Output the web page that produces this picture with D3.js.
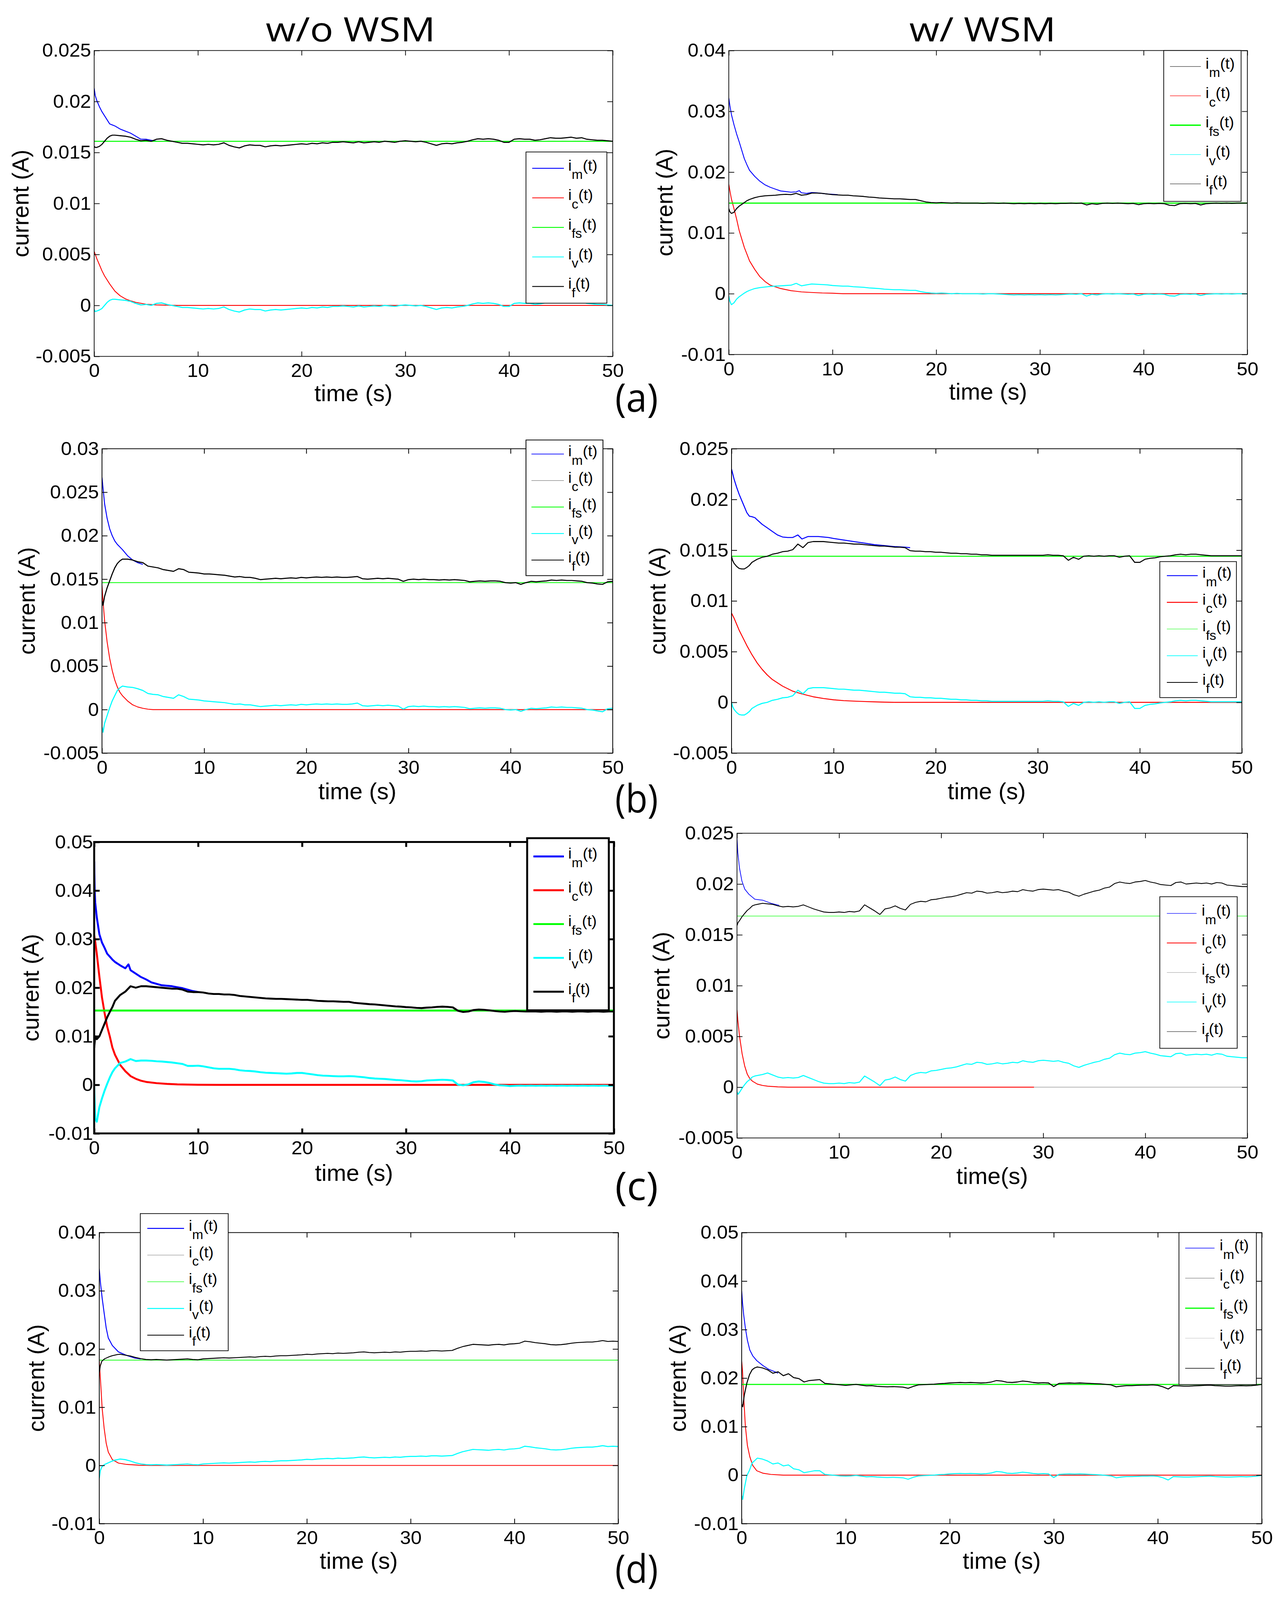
<!DOCTYPE html>
<html>
<head>
<meta charset="utf-8">
<title>current w/o WSM and w/ WSM</title>
<script src="https://d3js.org/d3.v7.min.js"></script>
<style>
  html, body { margin: 0; padding: 0; width: 100%; height: 100%; overflow: hidden; background: #fff; }
  #fig { width: 100%; height: 100%; }
  svg { display: block; font-family: 'Liberation Sans', Arial, sans-serif; }
</style>
</head>
<body>
<div id="fig"></div>
<script>
// all currents are in mA; time in s

// time grid shared by the noisy traces i_v and i_f
const T = [0,0.1,0.25,0.5,0.75,1,1.25,1.5,1.75,2,
  2.5,3,3.5,4,4.5,5,5.5,6,6.5,7,
  7.5,8,8.5,9,9.5,10,10.5,11,11.5,12,
  12.5,13,13.5,14,14.5,15,15.5,16,16.5,17,
  17.5,18,18.5,19,19.5,20,20.5,21,21.5,22,
  22.5,23,23.5,24,24.5,25,25.5,26,26.5,27,
  27.5,28,28.5,29,29.5,30,30.5,31,31.5,32,
  32.5,33,33.5,34,34.5,35,35.5,36,36.5,37,
  37.5,38,38.5,39,39.5,40,40.5,41,41.5,42,
  42.5,43,43.5,44,44.5,45,45.5,46,46.5,47,
  47.5,48,48.5,49,49.5,50];

const X_TICKS = [0, 10, 20, 30, 40, 50];
const Y_TICKS_25 = [-5, 0, 5, 10, 15, 20, 25];
const Y_LABELS_25 = ['-0.005', '0', '0.005', '0.01', '0.015', '0.02', '0.025'];
const Y_TICKS_30 = [-5, 0, 5, 10, 15, 20, 25, 30];
const Y_LABELS_30 = ['-0.005', '0', '0.005', '0.01', '0.015', '0.02', '0.025', '0.03'];
const Y_TICKS_40 = [-10, 0, 10, 20, 30, 40];
const Y_LABELS_40 = ['-0.01', '0', '0.01', '0.02', '0.03', '0.04'];
const Y_TICKS_50 = [-10, 0, 10, 20, 30, 40, 50];
const Y_LABELS_50 = ['-0.01', '0', '0.01', '0.02', '0.03', '0.04', '0.05'];

// i_fs level of each panel
const FS = {aL: 16.1, aR: 14.9, bL: 14.6, bR: 14.4, cL: 15.3, cR: 16.85, dL: 18.1, dR: 18.7};

// ---- (a) w/o WSM
const aL_im = [[0,21.3],[0.1,20.6],[0.25,20.1],[0.5,19.5],[0.75,19.0],[1,18.6],[1.25,18.2],[1.5,17.8],[1.75,17.7],[2,17.6],[2.5,17.3],[3,17.1],[3.5,16.9],[4,16.6],[4.5,16.3],[5,16.3],[5.5,16.2],[6,16.1]];
const aL_ic = [[0,5.3],[0.25,4.6],[0.5,4.0],[0.75,3.4],[1,2.9],[1.5,2.1],[2,1.4],[2.5,0.95],[3,0.65],[3.5,0.45],[4,0.3],[5,0.12],[6,0.05],[8,0],[50,0]];
const aL_if = [15.6,15.5,15.5,15.6,15.8,16.1,16.4,16.6,16.7,16.7,
  16.65,16.6,16.5,16.3,16.15,16.2,16.1,16.3,16.35,16.2,
  16.1,16.0,15.9,15.9,15.85,15.8,15.75,15.8,15.75,15.8,
  15.95,15.7,15.55,15.45,15.65,15.75,15.7,15.7,15.55,15.65,
  15.7,15.65,15.7,15.75,15.8,15.85,15.8,15.9,15.85,15.95,
  15.9,16.0,16.0,16.05,16.0,15.95,16.05,15.95,16.0,16.05,
  16.0,16.1,16.05,16.0,16.1,16.15,16.1,16.05,16.1,16.0,
  15.85,15.7,15.85,15.9,15.85,15.95,16.0,16.1,16.25,16.35,
  16.3,16.35,16.3,16.2,16.0,16.0,16.3,16.35,16.3,16.3,
  16.2,16.25,16.35,16.45,16.4,16.4,16.45,16.5,16.4,16.45,
  16.3,16.25,16.2,16.2,16.15,16.1];
const aL_iv = [-0.4,-0.6,-0.55,-0.45,-0.3,0.0,0.3,0.5,0.6,0.6,
  0.55,0.5,0.4,0.2,0.05,0.1,0.0,0.2,0.25,0.1,
  0.0,-0.1,-0.2,-0.2,-0.25,-0.3,-0.35,-0.3,-0.35,-0.3,
  -0.15,-0.4,-0.55,-0.65,-0.45,-0.35,-0.4,-0.4,-0.55,-0.45,
  -0.4,-0.45,-0.4,-0.35,-0.3,-0.25,-0.3,-0.2,-0.25,-0.15,
  -0.2,-0.1,-0.1,-0.05,-0.1,-0.15,-0.05,-0.15,-0.1,-0.05,
  -0.1,0.0,-0.05,-0.1,0.0,0.05,0.0,-0.05,0.0,-0.1,
  -0.25,-0.4,-0.25,-0.2,-0.25,-0.15,-0.1,0.0,0.15,0.25,
  0.2,0.25,0.2,0.1,-0.1,-0.1,0.2,0.25,0.2,0.2,
  0.1,0.15,0.25,0.35,0.3,0.3,0.35,0.4,0.3,0.35,
  0.2,0.15,0.1,0.1,0.05,0.0];

// ---- (a) w/ WSM
const aR_im = [[0,32.2],[0.1,31.0],[0.25,29.5],[0.5,27.8],[0.75,26.3],[1,25.0],[1.25,23.6],[1.5,22.2],[1.75,21.2],[2,20.3],[2.5,19.3],[3,18.5],[3.5,17.9],[4,17.5],[4.5,17.2],[5,16.9],[5.5,16.8],[6,16.7],[6.5,16.75],[6.8,16.95],[7,16.6],[7.5,16.5],[8,16.65],[8.5,16.6],[9,16.5],[9.5,16.4],[10,16.35],[10.5,16.3]];
const aR_ic = [[0,18.0],[0.1,17.0],[0.25,15.6],[0.5,14.0],[0.75,12.3],[1,10.4],[1.25,9.0],[1.5,7.6],[1.75,6.5],[2,5.4],[2.5,4.0],[3,2.8],[3.5,2.0],[4,1.4],[5,0.85],[6,0.5],[7,0.3],[8,0.2],[9,0.12],[10,0.08],[11,0],[50,0]];
const aR_if = [14.0,13.5,13.2,13.4,14.0,14.4,14.7,15.0,15.3,15.5,
  15.8,16.0,16.1,16.15,16.2,16.3,16.35,16.3,16.5,16.2,
  16.3,16.55,16.55,16.5,16.4,16.3,16.25,16.2,16.2,16.1,
  16.05,16.0,15.9,15.85,15.75,15.7,15.65,15.6,15.6,15.55,
  15.5,15.5,15.3,15.1,15.0,14.95,15.0,14.95,14.9,14.95,
  14.9,14.9,14.9,14.9,14.85,14.9,14.9,14.85,14.9,14.85,
  14.8,14.85,14.8,14.85,14.8,14.85,14.8,14.85,14.8,14.85,
  14.85,14.9,14.85,14.9,14.6,14.8,14.7,14.85,14.9,14.85,
  14.9,14.85,14.8,14.85,14.65,14.8,14.85,14.8,14.85,14.8,
  14.55,14.5,14.8,14.85,14.8,14.85,14.6,14.8,14.85,14.9,
  14.85,14.9,14.85,14.9,14.9,14.9];
const aR_iv = [-0.4,-1.2,-1.8,-1.5,-0.9,-0.5,-0.2,0.1,0.35,0.55,
  0.85,1.0,1.1,1.2,1.25,1.3,1.35,1.4,1.7,1.3,
  1.45,1.6,1.55,1.5,1.45,1.35,1.3,1.25,1.25,1.15,
  1.1,1.05,0.95,0.9,0.85,0.75,0.7,0.65,0.65,0.6,
  0.55,0.55,0.35,0.2,0.1,0.05,0.1,0.05,0.0,0.05,
  0.0,0.0,0.0,0.0,-0.05,0.0,0.0,-0.05,-0.1,-0.15,
  -0.2,-0.15,-0.2,-0.15,-0.2,-0.15,-0.2,-0.15,-0.2,-0.15,
  -0.1,-0.05,-0.1,0.0,-0.4,-0.1,-0.2,-0.05,0.0,-0.05,
  0.0,-0.05,-0.1,-0.05,-0.3,-0.1,-0.05,-0.1,-0.05,-0.1,
  -0.35,-0.4,-0.1,-0.05,-0.1,-0.05,-0.3,-0.1,-0.05,0.0,
  -0.05,0.0,-0.05,0.0,0.0,0.0];

// ---- (b) w/o WSM
const bL_im = [[0,26.7],[0.1,25.5],[0.25,23.7],[0.5,22.0],[0.75,20.8],[1,20.0],[1.25,19.4],[1.5,19.0],[1.75,18.7],[2,18.4],[2.5,17.7],[3,17.2],[3.5,16.9],[4,16.7]];
const bL_ic = [[0,14.3],[0.1,12.5],[0.25,10.3],[0.5,7.8],[0.75,5.9],[1,4.5],[1.25,3.4],[1.5,2.6],[1.75,2.0],[2,1.6],[2.5,1.0],[3,0.55],[3.5,0.3],[4,0.15],[4.5,0.05],[5,0],[50,0]];
const bL_if = [12.5,12.0,13.0,14.0,14.8,15.6,16.3,16.8,17.1,17.3,
  17.3,17.2,17.0,16.9,16.5,16.4,16.3,16.1,16.0,15.9,
  16.2,16.1,15.8,15.75,15.7,15.6,15.6,15.55,15.5,15.45,
  15.35,15.25,15.3,15.2,15.2,15.1,14.95,15.0,15.05,15.1,
  15.05,15.1,15.15,15.1,15.2,15.15,15.2,15.25,15.2,15.25,
  15.2,15.25,15.2,15.2,15.25,15.3,15.05,15.0,15.05,15.1,
  15.05,15.1,15.05,15.0,14.75,14.95,15.0,14.95,15.0,14.95,
  14.95,14.9,14.95,14.9,14.95,14.9,14.85,14.7,14.75,14.8,
  14.75,14.8,14.8,14.75,14.6,14.55,14.6,14.4,14.6,14.75,
  14.7,14.75,14.8,14.9,14.85,14.9,14.85,14.85,14.8,14.75,
  14.6,14.55,14.45,14.4,14.7,14.75];
const bL_iv = [-2.0,-2.6,-1.6,-0.7,0.2,1.0,1.6,2.2,2.5,2.7,
  2.6,2.55,2.4,2.2,1.85,1.75,1.7,1.5,1.4,1.3,
  1.7,1.5,1.2,1.15,1.1,1.0,0.95,0.9,0.85,0.8,
  0.7,0.6,0.65,0.55,0.55,0.45,0.35,0.4,0.45,0.5,
  0.45,0.5,0.55,0.5,0.6,0.55,0.6,0.65,0.6,0.65,
  0.6,0.65,0.6,0.6,0.65,0.75,0.45,0.4,0.45,0.5,
  0.45,0.5,0.45,0.4,0.05,0.35,0.4,0.35,0.4,0.35,
  0.35,0.3,0.35,0.3,0.35,0.3,0.25,0.1,0.15,0.2,
  0.15,0.2,0.2,0.15,0.0,-0.05,0.0,-0.2,0.0,0.15,
  0.1,0.15,0.2,0.3,0.25,0.3,0.25,0.25,0.2,0.15,
  0.0,-0.05,-0.15,-0.25,0.1,0.15];

// ---- (b) w/ WSM
const bR_im = [[0,23.0],[0.25,22.0],[0.5,21.2],[0.75,20.5],[1,19.9],[1.25,19.3],[1.5,18.7],[1.75,18.35],[2,18.3],[2.3,18.2],[2.5,18.0],[3,17.55],[3.5,17.2],[4,16.85],[4.5,16.5],[5,16.3],[5.5,16.25],[6,16.25],[6.5,16.5],[6.9,16.1],[7.5,16.35],[8,16.35],[8.5,16.35],[9,16.3],[9.5,16.25],[10,16.15],[11,16.0],[12,15.85],[13,15.7],[14,15.55],[15,15.45],[16,15.35],[17,15.3],[17.5,15.25]];
const bR_ic = [[0,8.8],[0.25,8.3],[0.5,7.7],[0.75,7.1],[1,6.6],[1.5,5.6],[2,4.7],[2.5,3.9],[3,3.25],[3.5,2.7],[4,2.25],[5,1.6],[6,1.1],[7,0.8],[8,0.55],[9,0.38],[10,0.25],[11,0.17],[12,0.12],[13,0.08],[14,0.05],[15,0.02],[16,0],[50,0]];
const bR_if = [14.4,14.0,13.7,13.4,13.2,13.15,13.15,13.3,13.5,13.8,
  14.1,14.3,14.4,14.6,14.7,14.85,14.9,15.05,15.6,15.25,
  15.75,15.85,15.85,15.85,15.8,15.75,15.7,15.7,15.65,15.6,
  15.6,15.55,15.5,15.45,15.4,15.4,15.35,15.3,15.3,15.25,
  14.95,14.9,14.9,14.85,14.85,14.8,14.8,14.75,14.7,14.7,
  14.65,14.65,14.6,14.6,14.55,14.55,14.5,14.5,14.5,14.5,
  14.5,14.5,14.5,14.5,14.5,14.5,14.5,14.55,14.5,14.5,
  14.45,14.0,14.3,14.1,14.4,14.45,14.4,14.45,14.4,14.45,
  14.45,14.3,14.4,14.45,13.8,13.8,14.1,14.2,14.25,14.35,
  14.4,14.45,14.55,14.6,14.55,14.6,14.6,14.55,14.5,14.45,
  14.45,14.45,14.45,14.45,14.45,14.45];
const bR_iv = [0.0,-0.4,-0.7,-1.0,-1.2,-1.25,-1.25,-1.1,-0.9,-0.6,
  -0.3,-0.1,0.0,0.2,0.3,0.45,0.5,0.65,1.2,0.85,
  1.35,1.45,1.45,1.45,1.4,1.35,1.3,1.3,1.25,1.2,
  1.2,1.15,1.1,1.05,1.0,1.0,0.95,0.9,0.9,0.85,
  0.55,0.5,0.5,0.45,0.45,0.4,0.4,0.35,0.3,0.3,
  0.25,0.25,0.2,0.2,0.15,0.15,0.1,0.1,0.1,0.1,
  0.1,0.1,0.1,0.1,0.1,0.1,0.1,0.15,0.1,0.1,
  0.05,-0.4,-0.1,-0.3,0.0,0.05,0.0,0.05,0.0,0.05,
  0.05,-0.1,0.0,0.05,-0.6,-0.6,-0.3,-0.2,-0.15,-0.05,
  0.0,0.05,0.15,0.2,0.15,0.2,0.2,0.15,0.1,0.05,
  0.05,0.05,0.05,0.05,0.05,0.05];

// ---- (c) w/o WSM
const cL_im = [[0,46],[0.05,40],[0.1,37.5],[0.25,34.5],[0.5,31.0],[0.75,29.3],[1,28.2],[1.25,27.0],[1.5,26.4],[1.75,25.8],[2,25.3],[2.5,24.6],[3,24.0],[3.3,24.8],[3.5,23.6],[4,22.9],[4.5,22.2],[5,21.7],[5.5,21.1],[6,20.8],[6.5,20.5],[7,20.4],[7.5,20.3],[8,20.1],[8.5,19.9],[9,19.6],[9.5,19.3],[10,19.1]];
const cL_ic = [[0,30.8],[0.1,29.5],[0.25,27.0],[0.5,22.3],[0.75,18.0],[1,14.8],[1.25,12.0],[1.5,10.0],[1.75,7.7],[2,6.2],[2.5,4.1],[3,2.8],[3.5,1.8],[4,1.25],[4.5,0.85],[5,0.6],[6,0.35],[7,0.2],[8,0.1],[10,0.02],[12,0],[50,0]];
const cL_if = [7.6,10.0,9.4,10.0,11.3,12.6,13.9,15.0,16.0,17.3,
  18.5,19.2,20.3,20.0,20.3,20.3,20.2,20.1,20.0,19.9,
  19.8,19.8,19.6,19.2,19.1,19.1,19.0,18.8,18.7,18.7,
  18.6,18.6,18.5,18.3,18.2,18.1,18.0,17.9,17.8,17.75,
  17.7,17.7,17.65,17.6,17.55,17.5,17.5,17.4,17.3,17.25,
  17.2,17.2,17.15,17.1,17.1,16.9,16.8,16.7,16.6,16.55,
  16.45,16.35,16.25,16.15,16.1,16.0,15.95,15.85,15.8,15.9,
  15.95,16.05,16.1,16.05,15.95,15.25,15.0,15.1,15.4,15.5,
  15.45,15.35,15.2,15.1,15.05,15.15,15.2,15.15,15.1,15.1,
  15.1,15.05,15.1,15.1,15.05,15.1,15.1,15.05,15.1,15.1,
  15.05,15.1,15.1,15.05,15.1,15.1];
const cL_iv = [-0.4,-7.0,-7.6,-4.6,-2.8,-1.2,0.2,1.5,2.6,3.4,
  4.5,4.8,5.3,4.9,5.0,5.0,4.95,4.85,4.8,4.7,
  4.6,4.45,4.3,3.9,3.9,3.95,3.8,3.6,3.4,3.3,
  3.3,3.3,3.2,3.0,2.9,2.85,2.75,2.6,2.5,2.45,
  2.4,2.35,2.3,2.35,2.45,2.45,2.3,2.15,2.0,1.9,
  1.85,1.8,1.75,1.75,1.8,1.75,1.65,1.55,1.4,1.3,
  1.25,1.2,1.1,1.0,0.95,0.85,0.75,0.7,0.75,0.9,
  0.95,1.0,1.05,1.0,0.9,0.05,-0.1,0.1,0.55,0.7,
  0.6,0.4,0.1,-0.1,-0.15,-0.25,-0.2,-0.15,-0.2,-0.15,
  -0.2,-0.15,-0.2,-0.15,-0.2,-0.15,-0.2,-0.15,-0.2,-0.15,
  -0.2,-0.15,-0.2,-0.15,-0.2,-0.15];

// ---- (c) w/ WSM
const cR_im = [[0,24.6],[0.08,23.1],[0.24,21.6],[0.48,20.3],[0.76,19.5],[1.16,19.0],[1.75,18.5],[2.55,18.4],[3.35,18.1],[4.15,17.9]];
const cR_ic = [[0,7.6],[0.08,6.6],[0.25,5.0],[0.5,3.3],[0.75,2.1],[1,1.3],[1.25,0.85],[1.5,0.6],[2,0.3],[2.5,0.17],[3,0.1],[4,0.03],[5,0],[29.1,0]];
const cR_base = [[29.1,0],[50,0]];
const cR_if = [15.9,16.2,16.4,16.8,17.1,17.4,17.6,17.85,17.95,18.0,
  18.1,18.05,18.0,17.85,17.75,17.8,17.75,17.8,17.95,17.75,
  17.55,17.4,17.25,17.2,17.2,17.25,17.2,17.3,17.25,17.35,
  17.95,17.65,17.35,17.0,17.55,17.65,17.85,17.6,17.45,18.0,
  18.2,18.3,18.25,18.45,18.5,18.6,18.7,18.75,18.85,19.0,
  19.15,19.1,19.3,19.25,19.1,19.15,19.25,19.15,19.2,19.3,
  19.25,19.45,19.35,19.3,19.45,19.5,19.45,19.4,19.45,19.3,
  19.2,18.95,18.8,19.0,19.15,19.3,19.4,19.6,19.7,20.05,
  20.2,20.1,20.05,20.2,20.25,20.35,20.2,20.1,19.95,19.9,
  19.85,20.15,20.2,20.0,20.05,20.1,20.05,20.1,20.0,20.15,
  20.1,19.9,19.85,19.8,19.75,19.75];
const cR_iv = [-0.45,-0.7,-0.5,-0.1,0.25,0.55,0.75,1.0,1.1,1.15,
  1.25,1.4,1.2,1.0,0.9,0.95,0.9,0.95,1.15,0.95,
  0.75,0.55,0.4,0.35,0.35,0.4,0.35,0.45,0.4,0.5,
  1.1,0.8,0.5,0.15,0.7,0.8,1.0,0.75,0.6,1.15,
  1.35,1.45,1.4,1.6,1.65,1.75,1.85,1.9,2.0,2.15,
  2.3,2.25,2.45,2.4,2.25,2.3,2.4,2.3,2.35,2.45,
  2.4,2.6,2.5,2.45,2.6,2.65,2.6,2.55,2.6,2.45,
  2.35,2.1,1.95,2.15,2.3,2.45,2.55,2.75,2.85,3.2,
  3.35,3.25,3.2,3.35,3.4,3.5,3.35,3.25,3.1,3.05,
  3.0,3.3,3.35,3.15,3.2,3.25,3.2,3.25,3.15,3.3,
  3.25,3.05,3.0,2.95,2.9,2.9];

// ---- (d) w/o WSM
const dL_im = [[0,33.8],[0.12,31.3],[0.28,28.75],[0.47,26.2],[0.67,23.6],[0.87,21.9],[1.26,20.6],[1.85,19.5],[2.64,18.9],[3.43,18.45],[4,18.3]];
const dL_ic = [[0,18.0],[0.12,14.6],[0.28,9.8],[0.47,6.4],[0.67,3.8],[0.87,2.3],[1.26,1.0],[1.85,0.4],[2.64,0.17],[3.8,0.04],[5,0],[50,0]];
const dL_if = [15.9,17.1,17.9,18.3,18.5,18.7,18.85,18.95,19.05,19.1,
  18.95,18.8,18.55,18.35,18.2,18.15,18.2,18.15,18.1,18.15,
  18.2,18.25,18.3,18.2,18.15,18.3,18.35,18.4,18.45,18.5,
  18.45,18.5,18.55,18.6,18.65,18.6,18.7,18.75,18.7,18.8,
  18.85,18.85,18.9,18.95,19.0,19.1,19.05,19.15,19.2,19.25,
  19.2,19.3,19.25,19.3,19.35,19.45,19.5,19.4,19.35,19.4,
  19.45,19.4,19.5,19.45,19.55,19.6,19.6,19.65,19.6,19.7,
  19.7,19.65,19.7,19.75,20.1,20.4,20.6,20.8,20.75,20.7,
  20.65,20.75,20.8,20.7,20.85,20.9,21.0,21.35,21.25,21.1,
  21.0,20.9,20.75,20.7,20.75,20.85,21.0,21.1,21.15,21.2,
  21.2,21.3,21.45,21.3,21.35,21.3];
const dL_iv = [-2.2,-0.9,-0.25,0.15,0.35,0.55,0.75,0.9,1.0,1.1,
  1.0,0.75,0.45,0.25,0.15,0.1,0.15,0.1,0.05,0.1,
  0.15,0.2,0.25,0.15,0.1,0.25,0.3,0.35,0.4,0.45,
  0.4,0.45,0.5,0.55,0.6,0.55,0.65,0.7,0.65,0.75,
  0.8,0.8,0.85,0.9,0.95,1.05,1.0,1.1,1.15,1.2,
  1.15,1.25,1.2,1.25,1.3,1.4,1.45,1.35,1.3,1.35,
  1.4,1.35,1.45,1.4,1.5,1.55,1.55,1.6,1.55,1.65,
  1.65,1.6,1.65,1.7,2.05,2.35,2.55,2.75,2.7,2.65,
  2.6,2.7,2.75,2.65,2.8,2.85,2.95,3.3,3.2,3.05,
  2.95,2.85,2.7,2.65,2.7,2.8,2.95,3.05,3.1,3.15,
  3.15,3.25,3.4,3.25,3.3,3.25];

// ---- (d) w/ WSM
const dR_im = [[0,38.0],[0.08,35.5],[0.2,32.9],[0.35,30.4],[0.55,27.8],[0.78,25.8],[1.06,24.6],[1.45,23.6],[2.03,22.6],[2.6,21.8],[3.2,21.3],[3.5,21.0]];
const dR_ic = [[0,23.5],[0.08,21.5],[0.2,15.9],[0.35,10.2],[0.55,6.1],[0.78,3.8],[1.06,2.0],[1.45,0.9],[2.03,0.4],[2.8,0.15],[4,0],[50,0]];
const dR_if = [14.6,14.1,16.5,19.0,20.7,21.7,22.1,22.3,22.2,22.1,
  21.7,21.0,21.3,20.5,20.9,20.1,19.9,19.2,19.5,19.6,
  19.7,18.9,18.8,18.7,18.6,18.5,18.6,18.7,18.55,18.4,
  18.45,18.3,18.25,18.2,18.25,18.2,18.15,17.9,18.3,18.6,
  18.65,18.7,18.75,18.85,18.9,19.0,19.05,19.1,19.05,19.1,
  19.05,19.0,19.05,19.2,19.5,19.4,19.15,19.1,19.2,19.4,
  19.3,19.1,19.0,19.05,19.0,18.25,18.9,18.95,19.0,18.95,
  19.0,18.95,18.9,18.85,18.8,18.7,18.6,18.2,18.35,18.45,
  18.45,18.5,18.55,18.55,18.6,18.5,18.2,17.75,18.45,18.4,
  18.35,18.35,18.4,18.45,18.5,18.55,18.45,18.4,18.35,18.35,
  18.4,18.45,18.4,18.45,18.55,18.7];
const dR_iv = [-4.2,-5.0,-2.8,-0.1,1.0,2.5,3.0,3.5,3.4,3.3,
  2.9,2.3,2.5,1.9,2.1,1.3,1.1,0.5,0.7,0.9,
  0.9,0.15,0.05,-0.05,-0.15,-0.2,-0.15,-0.05,-0.2,-0.35,
  -0.3,-0.4,-0.45,-0.5,-0.45,-0.5,-0.55,-0.85,-0.45,-0.15,
  -0.1,-0.05,0.0,0.1,0.15,0.25,0.3,0.35,0.3,0.35,
  0.3,0.25,0.3,0.45,0.75,0.65,0.4,0.35,0.45,0.6,
  0.5,0.35,0.25,0.3,0.25,-0.5,0.15,0.2,0.25,0.2,
  0.25,0.2,0.15,0.1,0.05,-0.05,-0.15,-0.55,-0.4,-0.3,
  -0.3,-0.25,-0.2,-0.2,-0.15,-0.25,-0.55,-1.0,-0.3,-0.35,
  -0.4,-0.4,-0.35,-0.3,-0.25,-0.2,-0.3,-0.35,-0.4,-0.4,
  -0.35,-0.3,-0.35,-0.3,-0.2,-0.05];

const LEGEND_SUBS = ['m', 'c', 'fs', 'v', 'f'];
const COLOR = {im: '#0000ff', ic: '#ff0000', fs: '#00ff00', iv: '#00ffff', if: '#000000'};

// panel layout (pixels) and styling
const panels = [
  {id: 'aL', box: [241, 133, 1568, 938], yDom: [-5, 25], yTicks: Y_TICKS_25, yLabels: Y_LABELS_25,
   im: aL_im, ic: aL_ic, iv: aL_iv, fi: aL_if, lw: [2.4, 2.2, 2.6, 2.8, 2.8], axisW: 1.8, yPad: 8,
   yLabX: 52, xLabY: 1035, xLab: 'time (s)',
   leg: {box: [1346, 400, 1553, 798], y0: 443, dy: 77.75, lx: [16, 97], tx: 108, bw: 1.8,
     st: [['#0000ff', 2.2], ['#ff0000', 2.2], ['#00ff00', 2.4], ['#00ffff', 2.2], ['#000', 2.2]]}},
  {id: 'aR', box: [1865, 133, 3192, 933], yDom: [-10, 40], yTicks: Y_TICKS_40, yLabels: Y_LABELS_40,
   im: aR_im, ic: aR_ic, iv: aR_iv, fi: aR_if, lw: [2.2, 2.2, 3.2, 2.6, 2.6], axisW: 1.8, yPad: 8,
   yLabX: 1700, xLabY: 1031, xLab: 'time (s)',
   leg: {box: [2978, 133, 3176, 530], y0: 175, dy: 77.25, lx: [16, 95], tx: 107, bw: 1.8,
     st: [['#000', 1.2], ['#ff0000', 1.2], ['#00ff00', 3.5], ['#00ffff', 1.2], ['#000', 1.2]]}},
  {id: 'bL', box: [261, 1181, 1568, 1982], yDom: [-5, 30], yTicks: Y_TICKS_30, yLabels: Y_LABELS_30,
   im: bL_im, ic: bL_ic, iv: bL_iv, fi: bL_if, lw: [2.4, 2.2, 2, 2.8, 2.8], axisW: 2, yPad: 8,
   yLabX: 68, xLabY: 2082, xLab: 'time (s)',
   leg: {box: [1346, 1158, 1543, 1515], y0: 1195, dy: 69.75, lx: [14, 97], tx: 108, bw: 2,
     st: [['#0000ff', 2], ['#555', 1], ['#00ff00', 2], ['#00ffff', 2.2], ['#000', 2]]}},
  {id: 'bR', box: [1872, 1181, 3178, 1982], yDom: [-5, 25], yTicks: Y_TICKS_25, yLabels: Y_LABELS_25,
   im: bR_im, ic: bR_ic, iv: bR_iv, fi: bR_if, lw: [2.6, 2.4, 2.6, 2.8, 2.6], axisW: 2, yPad: 8,
   yLabX: 1682, xLabY: 2082, xLab: 'time (s)',
   leg: {box: [2968, 1478, 3164, 1836], y0: 1515, dy: 70.25, lx: [18, 97], tx: 109, bw: 1.8,
     st: [['#0000ff', 2.5], ['#ff0000', 2.5], ['#00ff00', 1.2], ['#00ffff', 2], ['#000', 2]]}},
  {id: 'cL', box: [241, 2216, 1571, 2983], yDom: [-10, 50], yTicks: Y_TICKS_50, yLabels: Y_LABELS_50,
   im: cL_im, ic: cL_ic, iv: cL_iv, fi: cL_if, lw: [5, 5, 5, 5, 5], axisW: 5, yPad: 3,
   yLabX: 78, xLabY: 3087, xLab: 'time (s)',
   leg: {box: [1349, 2206, 1558, 2659], y0: 2254, dy: 89, lx: [16, 94], tx: 105, bw: 5,
     st: [['#0000ff', 5], ['#ff0000', 5], ['#00ff00', 5], ['#00ffff', 5], ['#000', 5]]}},
  {id: 'cR', box: [1886, 2193, 3192, 2995], yDom: [-5, 25], yTicks: Y_TICKS_25, yLabels: Y_LABELS_25,
   im: cR_im, ic: cR_ic, iv: cR_iv, fi: cR_if, base: cR_base, lw: [1.8, 2.2, 1.3, 2.6, 2.2], axisW: 1.8, yPad: 8,
   yLabX: 1692, xLabY: 3095, xLab: 'time(s)',
   leg: {box: [2968, 2360, 3166, 2759], y0: 2404, dy: 77.75, lx: [18, 94], tx: 107, bw: 1.8,
     st: [['#0000ff', 1.3], ['#ff0000', 2], ['#999', 1], ['#00ffff', 1.5], ['#333', 1.2]]}},
  {id: 'dL', box: [254, 3244, 1582, 4010], yDom: [-10, 40], yTicks: Y_TICKS_40, yLabels: Y_LABELS_40,
   im: dL_im, ic: dL_ic, iv: dL_iv, fi: dL_if, lw: [2.4, 2.2, 1.8, 2.8, 2.4], axisW: 2, yPad: 8,
   yLabX: 92, xLabY: 4108, xLab: 'time (s)',
   leg: {box: [359, 3194, 584, 3555], y0: 3233, dy: 70.25, lx: [18, 112], tx: 124, bw: 1.8,
     st: [['#0000ff', 2.5], ['#777', 1], ['#00ff00', 1.5], ['#00ffff', 2.5], ['#000', 2]]}},
  {id: 'dR', box: [1898, 3244, 3229, 4010], yDom: [-10, 50], yTicks: Y_TICKS_50, yLabels: Y_LABELS_50,
   im: dR_im, ic: dR_ic, iv: dR_iv, fi: dR_if, lw: [2.2, 2.2, 3, 2.6, 2.6], axisW: 2, yPad: 8,
   yLabX: 1734, xLabY: 4108, xLab: 'time (s)',
   leg: {box: [3017, 3244, 3215, 3644], y0: 3285, dy: 79, lx: [16, 91], tx: 104, bw: 1.8,
     st: [['#0000ff', 1.5], ['#555', 1], ['#00ff00', 3], ['#bbb', 1], ['#000', 1.5]]}}
];

// the drawing is laid out in a 3273 x 4211 box and scaled to fill the window
const W = 3273, H = 4211;
const svg = d3.select('#fig').append('svg')
  .attr('width', '100%').attr('height', '100%')
  .attr('viewBox', `0 0 ${W} ${H}`)
  .attr('preserveAspectRatio', 'none');
svg.append('rect').attr('width', W).attr('height', H).attr('fill', '#fff');

function drawPanel(p) {
  const [x0, y0, x1, y1] = p.box;
  const x = d3.scaleLinear().domain([0, 50]).range([x0, x1]);
  const y = d3.scaleLinear().domain(p.yDom).range([y1, y0]);
  const g = svg.append('g').attr('class', 'panel-' + p.id);

  g.append('clipPath').attr('id', 'clip-' + p.id)
    .append('rect').attr('x', x0).attr('y', y0).attr('width', x1 - x0).attr('height', y1 - y0);

  const line = d3.line().x(d => x(d[0])).y(d => y(d[1]));
  const traces = [
    {d: p.im, c: COLOR.im, w: p.lw[0]},
    {d: p.ic, c: COLOR.ic, w: p.lw[1]}
  ];
  if (p.base) traces.push({d: p.base, c: '#888', w: 1.2});
  traces.push(
    {d: [[0, FS[p.id]], [50, FS[p.id]]], c: COLOR.fs, w: p.lw[2]},
    {d: d3.zip(T, p.iv), c: COLOR.iv, w: p.lw[3]},
    {d: d3.zip(T, p.fi), c: COLOR.if, w: p.lw[4]}
  );
  g.append('g').attr('clip-path', `url(#clip-${p.id})`)
    .selectAll('path').data(traces).join('path')
    .attr('d', t => line(t.d))
    .attr('fill', 'none')
    .attr('stroke', t => t.c)
    .attr('stroke-width', t => t.w)
    .attr('stroke-linejoin', 'round');

  // axes, ticks pointing inwards on all four sides
  const yLab = new Map(d3.zip(p.yTicks, p.yLabels));
  const styleAxis = a => {
    a.select('.domain').remove();
    a.attr('font-size', 50).attr('font-family', "'Liberation Sans', Arial, sans-serif");
    a.selectAll('line').attr('stroke-width', p.axisW);
  };
  g.append('g').attr('transform', `translate(${x0},0)`)
    .call(d3.axisLeft(y).tickValues(p.yTicks).tickFormat(d => yLab.get(d))
      .tickSizeInner(-14).tickSizeOuter(0).tickPadding(p.yPad))
    .call(styleAxis);
  g.append('g').attr('transform', `translate(${x1},0)`)
    .call(d3.axisRight(y).tickValues(p.yTicks).tickFormat('').tickSizeInner(-14).tickSizeOuter(0))
    .call(styleAxis);
  g.append('g').attr('transform', `translate(0,${y1})`)
    .call(d3.axisBottom(x).tickValues(X_TICKS).tickFormat(d3.format('d'))
      .tickSizeInner(-13).tickSizeOuter(0).tickPadding(19))
    .call(styleAxis);
  g.append('g').attr('transform', `translate(0,${y0})`)
    .call(d3.axisTop(x).tickValues(X_TICKS).tickFormat('').tickSizeInner(-13).tickSizeOuter(0))
    .call(styleAxis);

  g.append('rect').attr('x', x0).attr('y', y0).attr('width', x1 - x0).attr('height', y1 - y0)
    .attr('fill', 'none').attr('stroke', '#000').attr('stroke-width', p.axisW);

  g.append('text')
    .attr('transform', `translate(${p.yLabX},${(y0 + y1) / 2}) rotate(-90)`)
    .attr('text-anchor', 'middle').attr('dy', '0.35em')
    .attr('font-size', 60).text('current (A)');
  g.append('text')
    .attr('x', (x0 + x1) / 2).attr('y', p.xLabY)
    .attr('text-anchor', 'middle').attr('dy', '0.35em')
    .attr('font-size', 60).text(p.xLab);

  // legend
  const L = p.leg;
  const [bx0, by0, bx1, by1] = L.box;
  g.append('rect').attr('x', bx0).attr('y', by0).attr('width', bx1 - bx0).attr('height', by1 - by0)
    .attr('fill', '#fff').attr('stroke', '#000').attr('stroke-width', L.bw);
  LEGEND_SUBS.forEach((sub, i) => {
    const ly = L.y0 + i * L.dy;
    g.append('line')
      .attr('x1', bx0 + L.lx[0]).attr('x2', bx0 + L.lx[1])
      .attr('y1', ly).attr('y2', ly)
      .attr('stroke', L.st[i][0]).attr('stroke-width', L.st[i][1]);
    const t = g.append('text').attr('x', bx0 + L.tx).attr('y', ly + 6).attr('font-size', 40);
    t.append('tspan').text('i');
    t.append('tspan').attr('dy', 22).attr('font-size', 34).text(sub);
    t.append('tspan').attr('dy', -22).text('(t)');
  });
}

panels.forEach(drawPanel);

// column titles and row labels
const TITLES = [{text: 'w/o WSM', x: 680, len: 434}, {text: 'w/ WSM', x: 2327, len: 375}];
svg.selectAll('text.title').data(TITLES).join('text').attr('class', 'title')
  .attr('x', d => d.x).attr('y', 109)
  .attr('textLength', d => d.len).attr('lengthAdjust', 'spacingAndGlyphs')
  .attr('font-family', "'Open Sans', 'Noto Sans', sans-serif").attr('font-size', 88)
  .text(d => d.text);

const ROW_LABELS = ['(a)', '(b)', '(c)', '(d)'];
const ROW_BASE = [1084, 2138, 3158, 4166];
svg.selectAll('text.row').data(ROW_LABELS).join('text').attr('class', 'row')
  .attr('x', 1574).attr('y', (d, i) => ROW_BASE[i])
  .attr('textLength', 110).attr('lengthAdjust', 'spacingAndGlyphs')
  .attr('font-family', "'Open Sans', 'Noto Sans', sans-serif").attr('font-size', 104)
  .text(d => d);
</script>
</body>
</html>
